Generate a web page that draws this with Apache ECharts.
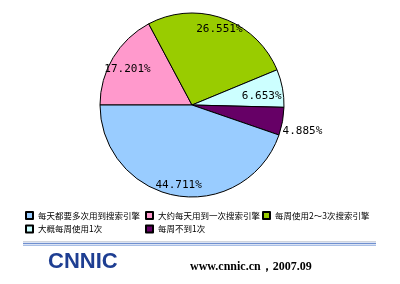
<!DOCTYPE html>
<html>
<head>
<meta charset="utf-8">
<script src="https://cdn.jsdelivr.net/npm/echarts@6/dist/echarts.min.js"></script>
<style>
html,body{margin:0;padding:0;background:#fff;}
#chart{width:400px;height:284px;}
</style>
</head>
<body>
<div id="chart"></div>
<script>
// Categories in legend order
var categories = [
  '每天都要多次用到搜索引擎',
  '大约每天用到一次搜索引擎',
  '每周使用2～3次搜索引擎',
  '大概每周使用1次',
  '每周不到1次'
];
// Percent values, same order as categories
var values = [44.711, 17.201, 26.551, 6.653, 4.885];
var colors = ['#99ccff', '#ff99cc', '#99cc00', '#ccffff', '#660066'];
// Drawing order around the pie (clockwise from the left)
var drawOrder = [1, 2, 3, 4, 0];
// small label nudges (px) per category index
var labelNudge = {1: [5, 6], 3: [-10, 6], 4: [0, 10]};

var chart = echarts.init(document.getElementById('chart'), null, {renderer: 'canvas'});

var pieData = drawOrder.map(function (i) {
  return {name: categories[i], value: values[i], itemStyle: {color: colors[i]}};
});
var labelData = drawOrder.map(function (i) {
  var d = {name: categories[i], value: values[i]};
  if (i === 4) {
    d.label = {position: 'outside', distanceToLabelLine: 0};
    d.labelLine = {show: false, length: 0, length2: 0};
  }
  return d;
});

var labelFont = {fontFamily: 'DejaVu Sans Mono', fontSize: 11, color: '#000'};
var legendText = {fontFamily: 'Noto Sans CJK SC', fontSize: 8.5, color: '#000'};

function makeLegend(names, left) {
  return {
    data: names,
    left: left, top: 211,
    orient: 'vertical',
    itemWidth: 7, itemHeight: 7,
    itemGap: 4.5,
    icon: 'rect',
    selectedMode: false,
    padding: 0,
    textStyle: legendText
  };
}

chart.setOption({
  animation: false,
  color: colors,
  legend: [
    makeLegend([categories[0], categories[3]], 25),
    makeLegend([categories[1], categories[4]], 145),
    makeLegend([categories[2]], 262)
  ],
  series: [
    {
      type: 'pie',
      center: [192, 105], radius: 92,
      startAngle: 180, clockwise: true,
      avoidLabelOverlap: false,
      silent: true,
      label: {show: false}, labelLine: {show: false},
      itemStyle: {borderColor: '#000', borderWidth: 1},
      emphasis: {disabled: true},
      data: pieData
    },
    {
      type: 'pie',
      center: [192, 105], radius: [64, 92],
      startAngle: 180, clockwise: true,
      avoidLabelOverlap: false,
      silent: true,
      itemStyle: {color: 'rgba(0,0,0,0)', borderWidth: 0},
      label: Object.assign({show: true, position: 'inside', formatter: '{c}%'}, labelFont),
      labelLine: {show: false},
      labelLayout: function (p) {
        var idx = categories.indexOf(labelData[p.dataIndex].name);
        var n = labelNudge[idx];
        return n ? {dx: n[0], dy: n[1]} : {};
      },
      emphasis: {disabled: true},
      data: labelData
    }
  ],
  graphic: [
    {type: 'line', shape: {x1: 23, y1: 241.5, x2: 376, y2: 241.5}, style: {stroke: '#d0d4dc', lineWidth: 1}},
    {type: 'line', shape: {x1: 23, y1: 243.5, x2: 376, y2: 243.5}, style: {stroke: '#6f8fcf', lineWidth: 1.5}},
    {type: 'line', shape: {x1: 23, y1: 245.5, x2: 376, y2: 245.5}, style: {stroke: '#a9bfe6', lineWidth: 1}},
    {type: 'text', left: 48, top: 251, style: {text: 'CNNIC', font: 'bold 22px "Liberation Sans"', fill: '#1e3e92'}},
    {type: 'text', left: 190, top: 261, style: {text: 'www.cnnic.cn，2007.09', font: 'bold 12px "Liberation Serif"', fill: '#000'}}
  ]
});
</script>
</body>
</html>
